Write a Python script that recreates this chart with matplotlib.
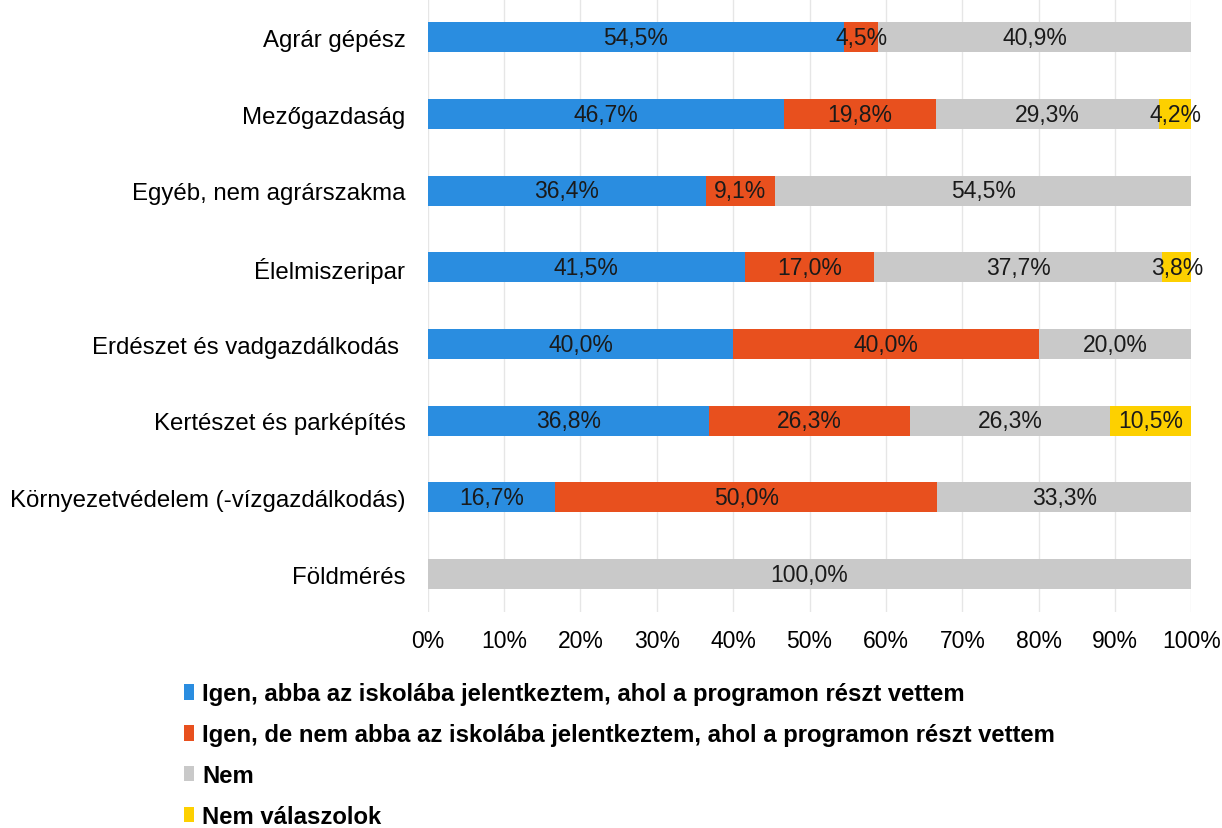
import matplotlib.pyplot as plt
import numpy as np
from matplotlib.patches import Patch

plt.rcParams['font.family'] = ['Liberation Sans', 'DejaVu Sans']

categories = ["Agrár gépész", "Mezőgazdaság", "Egyéb, nem agrárszakma", "Élelmiszeripar",
              "Erdészet és vadgazdálkodás ", "Kertészet és parképítés",
              "Környezetvédelem (-vízgazdálkodás)", "Földmérés"]
igen_ide = [54.5, 46.7, 36.4, 41.5, 40.0, 36.8, 16.7, 0]
igen_mas = [4.5, 19.8, 9.1, 17.0, 40.0, 26.3, 50.0, 0]
nem = [40.9, 29.3, 54.5, 37.7, 20.0, 26.3, 33.3, 100.0]
nem_valasz = [0, 4.2, 0, 3.8, 0, 10.5, 0, 0]

series_names = ["Igen, abba az iskolába jelentkeztem, ahol a programon részt vettem",
                "Igen, de nem abba az iskolába jelentkeztem, ahol a programon részt vettem",
                "Nem",
                "Nem válaszolok"]
colors = ['#2a8de0', '#e8501e', '#c9c9c9', '#fdd000']
xticks = [0, 10, 20, 30, 40, 50, 60, 70, 80, 90, 100]

fig = plt.figure(figsize=(12.22, 8.29), dpi=100)
ax = fig.add_axes([0.350, 0.26, 0.625, 0.74])

y = np.arange(len(categories))
left = np.zeros(len(categories))
for vals, col in zip([igen_ide, igen_mas, nem, nem_valasz], colors):
    vals = np.array(vals)
    ax.barh(y, vals, left=left, height=0.39, color=col, zorder=2)
    for yi, (l, v) in enumerate(zip(left, vals)):
        if v > 0:
            ax.text(l + v / 2, yi, f"{v:.1f}%".replace('.', ','), ha='center', va='center',
                    fontsize=16.5, color='#1a1a1a', zorder=3)
    left += vals

ax.set_xlim(0, 100)
ax.set_ylim(7.5, -0.5)
ax.set_yticks(y)
ax.set_yticklabels(categories, fontsize=17.3)
ax.set_xticks(xticks)
ax.set_xticklabels([f"{t}%" for t in xticks], fontsize=16.5)
ax.tick_params(axis='x', length=0, pad=12)
ax.tick_params(axis='y', length=0, pad=16)
ax.grid(True, axis='x', color='#e6e6e6', linewidth=1, zorder=0)
for s in ax.spines.values():
    s.set_visible(False)

handles = [Patch(facecolor=c, edgecolor='none') for c in colors]
fig.legend(handles, series_names, loc='upper left', bbox_to_anchor=(0.141, 0.19),
           frameon=False, prop={'weight': 'bold', 'size': 17.2}, handlelength=0.4,
           handleheight=0.6, handletextpad=0.35, labelspacing=0.75, borderpad=0)

plt.savefig('out.png', dpi=100)
